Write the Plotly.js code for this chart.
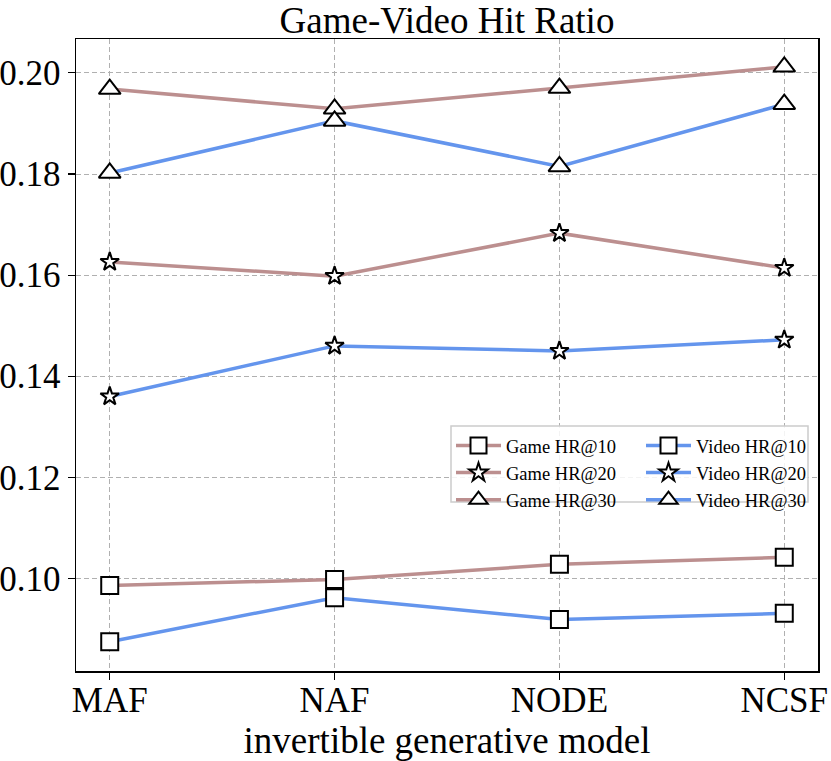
<!DOCTYPE html>
<html>
<head>
<meta charset="utf-8">
<script src="https://cdn.plot.ly/plotly-3.0.1.min.js"></script>
<style>html,body{margin:0;padding:0;background:#fff;}#chart{width:831px;height:761px;}</style>
</head>
<body>
<div id="chart"></div>
<script>
const categories = ["MAF", "NAF", "NODE", "NCSF"];
const gameHR10 = [0.0986, 0.0998, 0.1028, 0.1042];
const gameHR20 = [0.1626, 0.1598, 0.1683, 0.1614];
const gameHR30 = [0.1968, 0.1929, 0.1970, 0.2012];
const videoHR10 = [0.0875, 0.0962, 0.0919, 0.0931];
const videoHR20 = [0.1360, 0.1460, 0.1450, 0.1472];
const videoHR30 = [0.1802, 0.1905, 0.1815, 0.1938];
const yTickVals = [0.10, 0.12, 0.14, 0.16, 0.18, 0.20];
const yTickText = ["0.10", "0.12", "0.14", "0.16", "0.18", "0.20"];

const GAME = "#bc8f8f", VIDEO = "#6495ed";
const FONT = "Liberation Serif, Times New Roman, serif";

function tr(name, y, color, symbol, size, legend) {
  return {
    type: "scatter", mode: "lines+markers", name: name,
    x: categories, y: y, legend: legend,
    line: {color: color, width: 3.5},
    marker: {symbol: symbol, size: size, color: "#ffffff", line: {color: "#000000", width: 2}},
    cliponaxis: false
  };
}

const data = [
  tr("Game HR@10", gameHR10, GAME, "square", 17, "legend"),
  tr("Game HR@20", gameHR20, GAME, "star", 14, "legend"),
  tr("Game HR@30", gameHR30, GAME, "triangle-up", 19, "legend"),
  tr("Video HR@10", videoHR10, VIDEO, "square", 17, "legend2"),
  tr("Video HR@20", videoHR20, VIDEO, "star", 14, "legend2"),
  tr("Video HR@30", videoHR30, VIDEO, "triangle-up", 19, "legend2")
];

const L = 76, R = 13, T = 39, B = 90, W = 831, H = 761;
const pw = W - L - R, ph = H - T - B;
const px = v => (v - L) / pw;
const py = v => (H - B - v) / ph;

const legCommon = {
  bgcolor: "rgba(0,0,0,0)", borderwidth: 0,
  font: {family: FONT, size: 18.5, color: "#000"},
  xanchor: "left", yanchor: "top", tracegroupgap: 0, itemwidth: 45
};

const layout = {
  width: W, height: H,
  margin: {l: L, r: R, t: T, b: B, pad: 0},
  paper_bgcolor: "#ffffff", plot_bgcolor: "#ffffff",
  font: {family: FONT, color: "#000"},
  title: {text: "Game-Video Hit Ratio", font: {family: FONT, size: 37, color: "#000"},
          x: px(447), xanchor: "center", xref: "paper", y: 1 - 20 / H, yanchor: "middle"},
  xaxis: {
    type: "category", range: [-0.15, 3.15],
    showline: true, linecolor: "#000", linewidth: 1.5, mirror: true,
    ticks: "outside", ticklen: 7, tickwidth: 1.2, tickcolor: "#000",
    tickfont: {family: FONT, size: 35, color: "#000"}, ticklabelstandoff: -10,
    showgrid: true, gridcolor: "#b0b0b0", gridwidth: 1, griddash: "5px,3px",
    zeroline: false,
    title: {text: "invertible generative model", font: {family: FONT, size: 37, color: "#000"}, standoff: 8}
  },
  yaxis: {
    range: [0.0817, 0.2067],
    tickvals: yTickVals, ticktext: yTickText,
    showline: true, linecolor: "#000", linewidth: 1.5, mirror: true,
    ticks: "outside", ticklen: 7, tickwidth: 1.2, tickcolor: "#000",
    tickfont: {family: FONT, size: 35, color: "#000"},
    showgrid: true, gridcolor: "#b0b0b0", gridwidth: 1, griddash: "5px,3px",
    zeroline: false
  },
  showlegend: true,
  legend: Object.assign({}, legCommon, {x: px(451), y: py(427)}),
  legend2: Object.assign({}, legCommon, {x: px(641), y: py(427)}),
  shapes: [{
    type: "rect", xref: "paper", yref: "paper", layer: "above",
    x0: px(451), x1: px(808), y0: py(502), y1: py(426),
    fillcolor: "rgba(255,255,255,0.85)", line: {color: "#cccccc", width: 1.5}
  }]
};

Plotly.newPlot("chart", data, layout, {displayModeBar: false, staticPlot: true});
</script>
</body>
</html>
